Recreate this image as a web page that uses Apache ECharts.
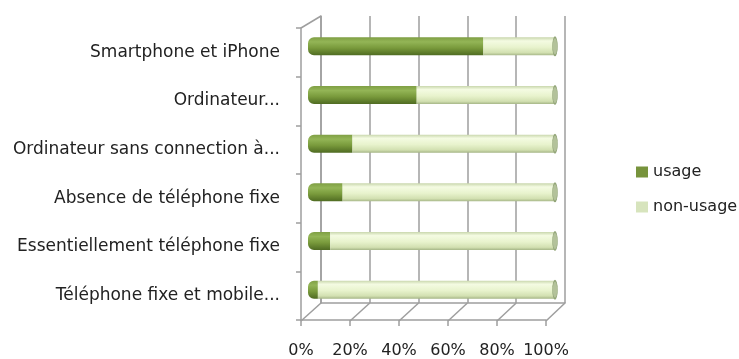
<!DOCTYPE html>
<html>
<head>
<meta charset="utf-8">
<script src="https://cdn.jsdelivr.net/npm/echarts@6/dist/echarts.min.js"></script>
<style>
  html, body { margin: 0; padding: 0; background: #ffffff; }
  #chart { width: 739px; height: 359px; }
</style>
</head>
<body>
<div id="chart"></div>
<script>
// Categories, listed top to bottom
const categories = [
  'Smartphone et iPhone',
  'Ordinateur...',
  'Ordinateur sans connection à...',
  'Absence de téléphone fixe',
  'Essentiellement téléphone fixe',
  'Téléphone fixe et mobile...'
];
// Share of each group (percent)
const usage    = [71, 44, 18, 14, 9, 4];
const nonUsage = [29, 56, 82, 86, 91, 96];
const percentTicks = [0, 20, 40, 60, 80, 100];
const seriesNames = ['usage', 'non-usage'];

// Layout: a front plane (axes, labels), a back wall (grid lines) and a middle plane (bars)
const W = 739, H = 359;
const front = { left: 301, right: 193, top: 28, bottom: 38 };
const back  = { left: 321, right: 174, top: 16, bottom: 56 };
const mid   = { left: 308, right: 184, top: 22, bottom: 45 };
const gridColor = '#9e9e9e';
const textColor = '#222222';
const fontFamily = 'DejaVu Sans';
const barWidth = 18;

const chart = echarts.init(document.getElementById('chart'), null, { renderer: 'canvas' });

const usageFill = new echarts.graphic.LinearGradient(0, 0, 0, 1, [
  { offset: 0.0, color: '#7f9f44' },
  { offset: 0.25, color: '#93b556' },
  { offset: 0.6, color: '#78993b' },
  { offset: 1.0, color: '#4f6b22' }
]);
const nonUsageFill = new echarts.graphic.LinearGradient(0, 0, 0, 1, [
  { offset: 0.0, color: '#c9d7ad' },
  { offset: 0.2, color: '#f4fbe2' },
  { offset: 0.55, color: '#e8f3cd' },
  { offset: 0.85, color: '#d2e0b1' },
  { offset: 1.0, color: '#a6b687' }
]);

const percentAxis = (gridIndex, extra) => Object.assign({
  type: 'value', gridIndex: gridIndex, min: 0, max: 100, interval: 20,
  axisLabel: { show: false }, axisTick: { show: false },
  axisLine: { show: false }, splitLine: { show: false }
}, extra);

const categoryAxis = (gridIndex, extra) => Object.assign({
  type: 'category', gridIndex: gridIndex, data: categories, inverse: true,
  axisLabel: { show: false }, axisTick: { show: false },
  axisLine: { show: false }, splitLine: { show: false }
}, extra);

const option = {
  animation: false,
  backgroundColor: '#ffffff',
  textStyle: { fontFamily: fontFamily },
  grid: [
    Object.assign({}, front),
    Object.assign({}, back),
    Object.assign({}, mid)
  ],
  xAxis: [
    percentAxis(0, {
      axisLine: { show: true, onZero: false, lineStyle: { color: gridColor, width: 1.5 } },
      axisTick: { show: true, length: 6, lineStyle: { color: gridColor, width: 1.5 } },
      axisLabel: {
        show: true, formatter: '{value}%', margin: 23,
        color: textColor, fontSize: 16, fontFamily: fontFamily
      }
    }),
    percentAxis(1, {
      axisLine: { show: true, onZero: false, lineStyle: { color: gridColor, width: 1.5 } },
      splitLine: { show: true, lineStyle: { color: gridColor, width: 1.5 } }
    }),
    percentAxis(2)
  ],
  yAxis: [
    categoryAxis(0, {
      axisLine: { show: true, lineStyle: { color: gridColor, width: 1.5 } },
      axisTick: { show: true, length: 5, lineStyle: { color: gridColor, width: 1.5 } },
      axisLabel: {
        show: true, margin: 21, color: textColor,
        fontSize: 17, fontFamily: fontFamily
      }
    }),
    categoryAxis(1, {
      axisLine: { show: true, lineStyle: { color: gridColor, width: 1.5 } }
    }),
    categoryAxis(2)
  ],
  legend: {
    orient: 'vertical', left: 631, top: 159,
    icon: 'rect', itemWidth: 12, itemHeight: 11, itemGap: 19,
    textStyle: { color: textColor, fontSize: 16, fontFamily: fontFamily },
    data: [
      { name: seriesNames[0], itemStyle: { color: '#77933c' } },
      { name: seriesNames[1], itemStyle: { color: '#d7e4bd' } }
    ]
  },
  series: [
    {
      name: seriesNames[0], type: 'bar', stack: 'share',
      xAxisIndex: 2, yAxisIndex: 2, barWidth: barWidth,
      itemStyle: { color: usageFill, borderRadius: [6, 0, 0, 6] },
      data: usage
    },
    {
      name: seriesNames[1], type: 'bar', stack: 'share',
      xAxisIndex: 2, yAxisIndex: 2, barWidth: barWidth,
      itemStyle: { color: nonUsageFill },
      data: nonUsage
    },
    {
      // elliptical end face of each cylinder
      name: 'end', type: 'custom', xAxisIndex: 2, yAxisIndex: 2,
      silent: true, z: 3,
      data: categories.map((c, i) => [usage[i] + nonUsage[i], i]),
      renderItem: function (params, api) {
        const p = api.coord([api.value(0), api.value(1)]);
        return {
          type: 'circle',
          x: p[0], y: p[1], scaleX: 0.27,
          shape: { cx: 0, cy: 0, r: barWidth / 2 },
          style: { fill: '#b3c29a', stroke: '#94a67a', lineWidth: 2 }
        };
      }
    }
  ]
};

chart.setOption(option);

// Depth edges joining the front plane to the back wall
const edges = [];
const frontFloor = H - front.bottom, backFloor = H - back.bottom;
percentTicks.forEach(function (v) {
  const xf = chart.convertToPixel({ xAxisIndex: 0 }, v);
  const xb = chart.convertToPixel({ xAxisIndex: 1 }, v);
  edges.push({ x1: xf, y1: frontFloor, x2: xb, y2: backFloor });
});
edges.push({ x1: front.left, y1: front.top, x2: back.left, y2: back.top });

chart.setOption({
  graphic: edges.map(function (s) {
    return {
      type: 'line', z: 1, silent: true,
      shape: s,
      style: { stroke: gridColor, lineWidth: 1.5 }
    };
  })
});
</script>
</body>
</html>
